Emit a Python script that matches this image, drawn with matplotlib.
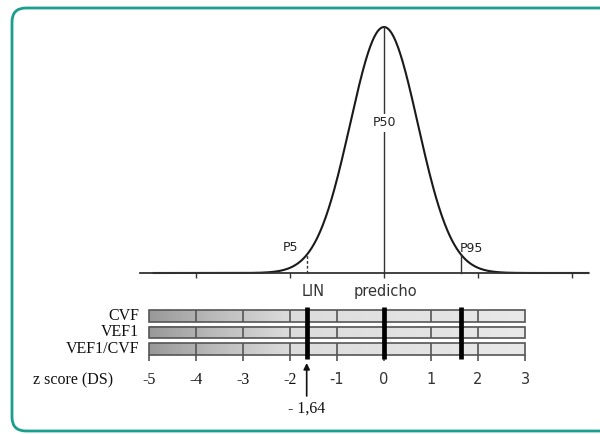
import matplotlib

matplotlib.use("Agg")
import matplotlib.pyplot as plt
import numpy as np
from matplotlib.patches import FancyBboxPatch, Rectangle

# values
z_ticks = [-5, -4, -3, -2, -1, 0, 1, 2, 3]
serif_ticks = [-5, -4, -3, -2]
curve_ticks = [-4, -2, 0, 2, 4]
row_labels = ["CVF", "VEF1", "VEF1/CVF"]
lin_z = -1.645
marker_lines = [-1.645, 0.0, 1.645]
curve_sd = 0.72
curve_range = (-4.9, 4.35)
baseline_range = (-5.2, 4.35)
shade_x = [-5.0, -3.5, -2.0, 3.0]
shade_gray = [0.60, 0.74, 0.86, 0.91]

W, H = 600, 434
Z0_PX, PX_PER_Z = 384, 47.0
TEAL = "#1b9e8d"
SERIF = "Liberation Serif"


def px_axes(fig, left, top, right, bottom):
    return fig.add_axes([left / W, 1 - bottom / H, (right - left) / W, (bottom - top) / H])


def zlim(left, right):
    return ((left - Z0_PX) / PX_PER_Z, (right - Z0_PX) / PX_PER_Z)


fig = plt.figure(figsize=(W / 100, H / 100), dpi=100)

# rounded teal frame (cropped on the right)
bg = px_axes(fig, 0, 0, W, H)
bg.set_xlim(0, W)
bg.set_ylim(H, 0)
bg.axis("off")
bg.add_patch(FancyBboxPatch((12, 8), 640, 423, boxstyle="round,pad=0,rounding_size=14",
                            fill=False, ec=TEAL, lw=2.0))

# --- bell curve ---
base_px, peak_px = 273, 27
scale = base_px - peak_px
ax = px_axes(fig, 130, 12, 600, 285)
ax.set_xlim(*zlim(130, 600))
ax.set_ylim(-(285 - base_px) / scale, (base_px - 12) / scale)
ax.axis("off")


def height(z):
    return np.exp(-np.square(z) / (2 * curve_sd**2))


x = np.linspace(*curve_range, 600)
ax.plot(x, height(x), color="#1a1a1a", lw=1.5)
ax.plot(baseline_range, [0, 0], color="#333333", lw=1.3)
ax.vlines(curve_ticks, -0.02, 0, color="#333333", lw=1.0)

ax.plot([-1.645, -1.645], [0, height(-1.645)], color="#333333", lw=1.0, ls=(0, (2, 1.5)))
ax.plot([1.645, 1.645], [0, height(1.645)], color="#333333", lw=1.0)
ax.plot([0, 0], [0, 1], color="#333333", lw=1.0)
ax.text(0, 0.61, "P50", ha="center", va="center", fontsize=9, color="#222222",
        bbox=dict(fc="white", ec="none", pad=2))
ax.text(-2.0, 0.105, "P5", ha="center", va="center", fontsize=9, color="#222222")
ax.text(1.87, 0.10, "P95", ha="center", va="center", fontsize=9, color="#222222")
ax.text(-1.51, -0.077, "LIN", ha="center", va="center", fontsize=10.5, color="#333333")
ax.text(0.02, -0.077, "predicho", ha="center", va="center", fontsize=10.5, color="#333333")

# --- z-score bars ---
row0_px, row_step = 316, 16.5
bx = px_axes(fig, 130, 300, 600, 420)
bx.set_xlim(*zlim(130, 600))
bx.axis("off")
half = 5.6 / row_step

grid = np.linspace(z_ticks[0], z_ticks[-1], 400)
grad = np.interp(grid, shade_x, shade_gray)[None, :]
for i, label in enumerate(row_labels):
    bx.imshow(grad, extent=(z_ticks[0], z_ticks[-1], i + half, i - half), cmap="gray",
              vmin=0, vmax=1, aspect="auto", interpolation="bilinear", zorder=1)
    bx.add_patch(Rectangle((z_ticks[0], i - half), z_ticks[-1] - z_ticks[0], 2 * half,
                           fill=False, ec="#555555", lw=1.2, zorder=2))
    bx.vlines([t for t in z_ticks[1:-1] if t != 0], i - half, i + half,
              color="#555555", lw=1.2, zorder=2)
    bx.text((139 - Z0_PX) / PX_PER_Z, i, label, ha="right", va="center",
            fontsize=11.5, family=SERIF, color="#111111")

last = len(row_labels) - 1
bx.vlines(z_ticks, last + half, (361 - row0_px) / row_step, color="#555555", lw=1.2)
bx.vlines(marker_lines, (307 - row0_px) / row_step, (359 - row0_px) / row_step,
          color="black", lw=3.4, zorder=3)

tick_y = (380 - row0_px) / row_step
for t in z_ticks:
    if t in serif_ticks:
        bx.text(t, tick_y, str(t), ha="center", va="center", fontsize=11.5, family=SERIF,
                color="#111111")
    else:
        bx.text(t, tick_y, str(t), ha="center", va="center", fontsize=10.5, color="#333333")
bx.text((113 - Z0_PX) / PX_PER_Z, tick_y, "z score (DS)", ha="right", va="center",
        fontsize=11.5, family=SERIF, color="#111111")

bx.annotate("", xy=(lin_z, (363 - row0_px) / row_step), xytext=(lin_z, (396 - row0_px) / row_step),
            arrowprops=dict(arrowstyle="-|>", color="#111111", lw=1.2, mutation_scale=9,
                            shrinkA=0, shrinkB=0))
bx.text(lin_z, (409 - row0_px) / row_step, "- 1,64", ha="center", va="center",
        fontsize=11.5, family=SERIF, color="#111111")
bx.set_ylim((420 - row0_px) / row_step, (300 - row0_px) / row_step)

fig.savefig("out.png", dpi=100)
